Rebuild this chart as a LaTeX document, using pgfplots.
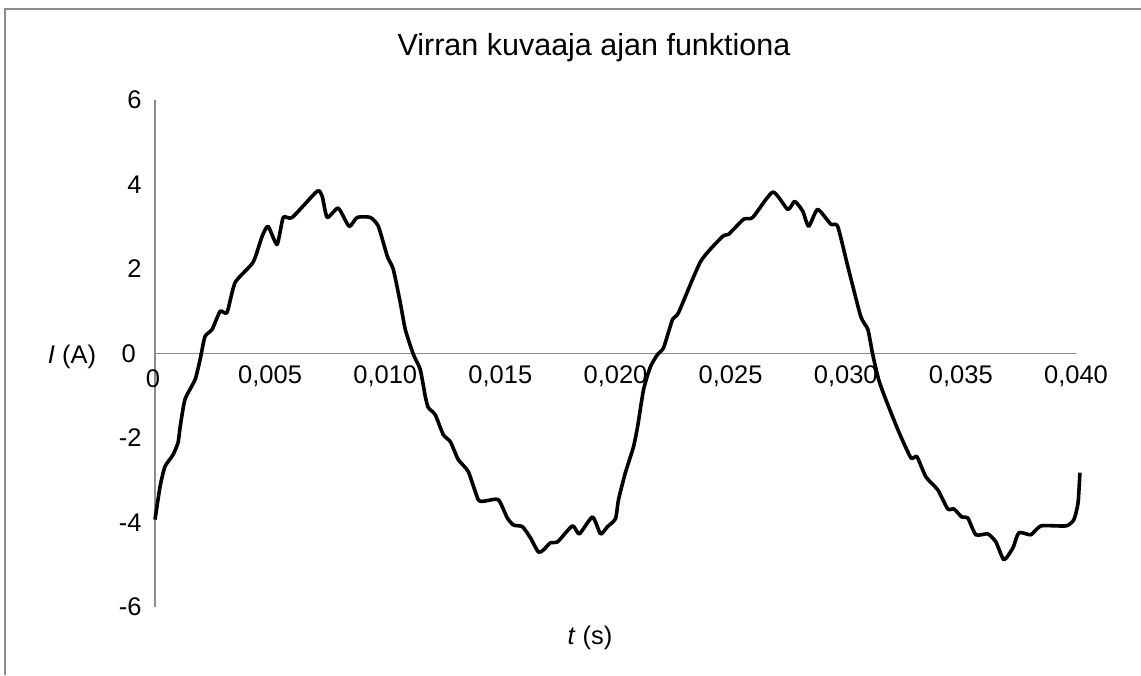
\documentclass[border=0pt]{standalone}
\usepackage{pgfplots}
\pgfplotsset{compat=1.18}
\usepackage{fontspec}
\setmainfont{Liberation Sans}
\definecolor{axgray}{HTML}{8C8C8C}
\begin{document}
\begin{tikzpicture}[x=1pt,y=1pt]
\path[use as bounding box] (0,0) rectangle (1141,675);
\draw[color=axgray, line width=1.5pt] (5,0) -- (5,666) -- (1141,666);
\node[font=\fontsize{30.5}{36}\selectfont] at (594,627) {Virran kuvaaja ajan funktiona};
\node[font=\fontsize{25.5}{30}\selectfont] at (72,318) {\textit{I} (A)};
\node[font=\fontsize{25.5}{30}\selectfont] at (590,37) {\textit{t} (s)};
\begin{axis}[
  at={(155pt,68pt)}, anchor=south west,
  scale only axis, width=921pt, height=507pt,
  xmin=0, xmax=0.04, ymin=-6, ymax=6,
  axis lines=middle,
  axis line style={color=axgray, line width=1.5pt, -},
  scaled x ticks=false, scaled y ticks=false,
  xtick={0,0.005,0.01,0.015,0.02,0.025,0.03,0.035,0.04},
  xticklabels={0,{0,005},{0,010},{0,015},{0,020},{0,025},{0,030},{0,035},{0,040}},
  ytick={-6,-4,-2,0,2,4,6},
  yticklabels={-6,-4,-2,0,2,4,6},
  major tick length=0pt,
  tick label style={font=\fontsize{25.5}{30}\selectfont, text=black},
  xticklabel style={yshift=-9pt},
  yticklabel style={xshift=-10pt},
  clip=false,
]
\addplot[black, line width=3.6pt, smooth, tension=0.35, line join=round] coordinates {
(0.00000,-3.93) (0.00022,-3.15) (0.00043,-2.68) (0.00078,-2.40) (0.00100,-2.11)
(0.00109,-1.75) (0.00130,-1.09) (0.00174,-0.62) (0.00196,-0.14) (0.00217,0.40)
(0.00248,0.57) (0.00283,1.00) (0.00313,0.97) (0.00348,1.68) (0.00426,2.16)
(0.00465,2.77) (0.00491,3.01) (0.00530,2.58) (0.00557,3.22) (0.00596,3.22)
(0.00704,3.84) (0.00726,3.72) (0.00748,3.22) (0.00796,3.44) (0.00843,3.01)
(0.00878,3.22) (0.00935,3.22) (0.00970,3.01) (0.01009,2.30) (0.01035,1.99)
(0.01065,1.21) (0.01087,0.57) (0.01122,-0.02) (0.01152,-0.38) (0.01174,-1.02)
(0.01187,-1.28) (0.01217,-1.45) (0.01252,-1.92) (0.01283,-2.09) (0.01317,-2.51)
(0.01361,-2.80) (0.01404,-3.46) (0.01435,-3.49) (0.01491,-3.46) (0.01530,-3.89)
(0.01557,-4.06) (0.01596,-4.10) (0.01630,-4.36) (0.01665,-4.70) (0.01687,-4.65)
(0.01717,-4.48) (0.01748,-4.46) (0.01813,-4.08) (0.01843,-4.27) (0.01900,-3.87)
(0.01935,-4.27) (0.01965,-4.10) (0.02000,-3.91) (0.02013,-3.46) (0.02043,-2.82)
(0.02078,-2.21) (0.02096,-1.73) (0.02122,-0.85) (0.02152,-0.31) (0.02183,-0.02)
(0.02209,0.14) (0.02248,0.81) (0.02274,0.97) (0.02370,2.18) (0.02465,2.77)
(0.02491,2.82) (0.02557,3.18) (0.02596,3.22) (0.02683,3.82) (0.02748,3.41)
(0.02778,3.60) (0.02813,3.37) (0.02839,3.01) (0.02878,3.41) (0.02935,3.06)
(0.02965,3.01) (0.03009,2.06) (0.03065,0.88) (0.03096,0.57) (0.03117,-0.02)
(0.03143,-0.62) (0.03174,-1.09) (0.03230,-1.85) (0.03283,-2.47) (0.03309,-2.44)
(0.03348,-2.92) (0.03400,-3.23) (0.03443,-3.68) (0.03470,-3.68) (0.03504,-3.87)
(0.03530,-3.89) (0.03565,-4.29) (0.03617,-4.27) (0.03652,-4.46) (0.03687,-4.88)
(0.03726,-4.60) (0.03752,-4.24) (0.03804,-4.29) (0.03848,-4.08) (0.03957,-4.08)
(0.03991,-3.93) (0.04009,-3.53) (0.04017,-2.82)
};
\node[font=\fontsize{25.5}{30}\selectfont, anchor=north, inner sep=0pt] at (axis cs:0,0) [yshift=-16pt, xshift=-2pt] {0};
\node[font=\fontsize{25.5}{30}\selectfont, anchor=east, inner sep=0pt] at (axis cs:0,0) [xshift=-19pt] {0};
\end{axis}
\end{tikzpicture}
\end{document}
